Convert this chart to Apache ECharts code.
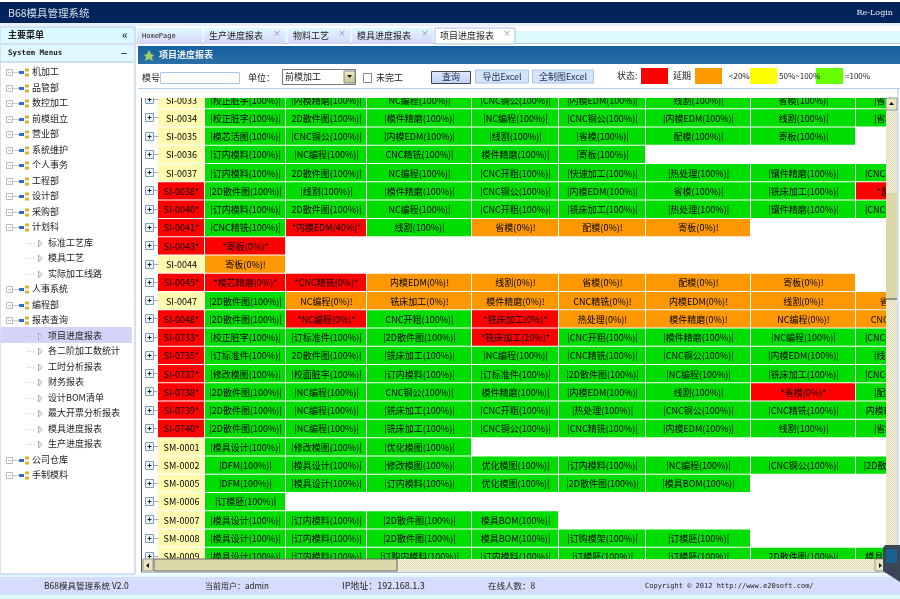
<!DOCTYPE html>
<html>
<head>
    <meta charset="utf-8">
    <title>项目进度报表</title>
    <script src="https://cdn.jsdelivr.net/npm/echarts@6/dist/echarts.min.js"></script>
    <style>
        html, body { margin: 0; padding: 0; background: #fff; }
        #chart1 { width: 900px; height: 599px; }
    </style>
</head>
<body>
<div id="chart1"></div>
<script type="text/javascript">
// 项目编号，带 * 的是延期
var rowIds = ['SI-0033', 'SI-0034', 'SI-0035', 'SI-0036', 'SI-0037', 'SI-0038*', 'SI-0040*', 'SI-0041*', 'SI-0043*',
    'SI-0044', 'SI-0045*', 'SI-0047', 'SI-0048*', 'SI-0733*', 'SI-0735*', 'SI-0737*', 'SI-0738*', 'SI-0739*',
    'SI-0740*', 'SM-0001', 'SM-0002', 'SM-0005', 'SM-0006', 'SM-0007', 'SM-0008', 'SM-0009'];

// 每行的工序：|x(100%)| 完成，x(0%)! 未开始，*x(0%)* 延期
var rowTasks = [
    ['|校正脏字(100%)|', '|内模精磨(100%)|', 'NC编程(100%)|', '|CNC铜公(100%)|', '|内模EDM(100%)|', '线割(100%)|', '省模(100%)|', '|省模(100%)|'],
    ['|校正脏字(100%)|', '2D散件图(100%)|', '|模件精磨(100%)|', '|NC编程(100%)|', '|CNC铜公(100%)|', '|内模EDM(100%)|', '线割(100%)|', '|省模(100%)|'],
    ['|模芯活图(100%)|', '|CNC铜公(100%)|', '|内模EDM(100%)|', '|线割(100%)|', '|省模(100%)|', '配模(100%)|', '寄板(100%)|'],
    ['|订内模料(100%)|', '|NC编程(100%)|', 'CNC精铣(100%)|', '模件精磨(100%)|', '|寄板(100%)|'],
    ['|订内模料(100%)|', '2D散件图(100%)|', 'NC编程(100%)|', '|CNC开粗(100%)|', '|快速加工(100%)|', '|热处理(100%)|', '|镶件精磨(100%)|', '|CNC精铣(100%)|'],
    ['|2D散件图(100%)|', '|线割(100%)|', '|模件精磨(100%)|', '|CNC铜公(100%)|', '|内模EDM(100%)|', '省模(100%)|', '|铣床加工(100%)|', '*配模(0%)*'],
    ['|订内模料(100%)|', '2D散件图(100%)|', 'NC编程(100%)|', '|CNC开粗(100%)|', '|铣床加工(100%)|', '|热处理(100%)|', '|镶件精磨(100%)|', '|CNC精铣(100%)|'],
    ['|CNC精铣(100%)|', '*内模EDM(40%)*', '线割(100%)|', '省模(0%)!', '配模(0%)!', '寄板(0%)!'],
    ['*寄板(0%)*'],
    ['寄板(0%)!'],
    ['*模芯精磨(0%)*', '*CNC精铣(0%)*', '内模EDM(0%)!', '线割(0%)!', '省模(0%)!', '配模(0%)!', '寄板(0%)!'],
    ['|2D散件图(100%)|', 'NC编程(0%)!', '铣床加工(0%)!', '模件精磨(0%)!', 'CNC精铣(0%)!', '内模EDM(0%)!', '线割(0%)!', '省模(0%)!'],
    ['|2D散件图(100%)|', '*NC编程(0%)*', 'CNC开粗(100%)|', '*铣床加工(0%)*', '热处理(0%)!', '模件精磨(0%)!', 'NC编程(0%)!', 'CNC精铣(0%)!'],
    ['|校正脏字(100%)|', '|订标准件(100%)|', '|2D散件图(100%)|', '*铣床加工(20%)*', '|CNC开粗(100%)|', '|模件精磨(100%)|', '|NC编程(100%)|', '|CNC精铣(100%)|'],
    ['|订标准件(100%)|', '2D散件图(100%)|', '|铣床加工(100%)|', '|NC编程(100%)|', '|CNC精铣(100%)|', '|CNC铜公(100%)|', '|内模EDM(100%)|', '|线割(100%)|'],
    ['|修改模图(100%)|', '|校面脏字(100%)|', '|订内模料(100%)|', '|订标准件(100%)|', '|2D散件图(100%)|', '|NC编程(100%)|', '|铣床加工(100%)|', '|CNC开粗(100%)|'],
    ['|2D散件图(100%)|', '|NC编程(100%)|', 'CNC铜公(100%)|', '模件精磨(100%)|', '|内模EDM(100%)|', '线割(100%)|', '*省模(0%)*', '|配模(100%)|'],
    ['|2D散件图(100%)|', '|NC编程(100%)|', '|铣床加工(100%)|', '|CNC开粗(100%)|', '|热处理(100%)|', '|CNC铜公(100%)|', '|CNC精铣(100%)|', '内模EDM(100%)|'],
    ['|2D散件图(100%)|', '|NC编程(100%)|', '|铣床加工(100%)|', '|CNC铜公(100%)|', '|CNC精铣(100%)|', '|内模EDM(100%)|', '线割(100%)|', '|省模(100%)|'],
    ['|模具设计(100%)|', '|修改模图(100%)|', '|优化模图(100%)|'],
    ['|DFM(100%)|', '|模具设计(100%)|', '|修改模图(100%)|', '优化模图(100%)|', '|订内模料(100%)|', '|NC编程(100%)|', '|CNC铜公(100%)|', '|2D散件图(100%)|'],
    ['|DFM(100%)|', '|模具设计(100%)|', '|订内模料(100%)|', '优化模图(100%)|', '|2D散件图(100%)|', '|模具BOM(100%)|'],
    ['|订模胚(100%)|'],
    ['|模具设计(100%)|', '|订内模料(100%)|', '|2D散件图(100%)|', '模具BOM(100%)|'],
    ['|模具设计(100%)|', '|订内模料(100%)|', '|2D散件图(100%)|', '模具BOM(100%)|', '|订购模架(100%)|', '|订模胚(100%)|'],
    ['|模具设计(100%)|', '|订内模料(100%)|', '|订购内模料(100%)|', '|订内模料(100%)|', '|订模胚(100%)|', '|订模胚(100%)|', '2D散件图(100%)|', '模具BOM(100%)|']
];

// 左边菜单：名称和层级
var menuNames = ['机加工', '品管部', '数控加工', '前模组立', '营业部', '系统维护', '个人事务', '工程部', '设计部', '采购部',
    '计划科', '标准工艺库', '模具工艺', '实际加工线路', '人事系统', '编程部', '报表查询', '项目进度报表', '各二阶加工数统计',
    '工时分析报表', '财务报表', '设计BOM清单', '最大开票分析报表', '模具进度报表', '生产进度报表', '公司仓库', '手制模料'];
var menuLevels = [0, 0, 0, 0, 0, 0, 0, 0, 0, 0, 0, 1, 1, 1, 0, 0, 0, 1, 1, 1, 1, 1, 1, 1, 1, 0, 0];

var tabNames = ['HomePage', '生产进度报表', '物料工艺', '模具进度报表', '项目进度报表'];
var legendNames = ['延期', '<20%', '50%~100%', '=100%'];

// 表格版面，单位是像素，从表格左边算起
var colEdges = [18, 65, 146, 227, 332, 419, 506, 611, 716, 804];
var rowPitch = 18.27;
var tableTop = 98, tableHeight = 461, firstRowTop = 91;

var RED = '#fe0000', ORANGE = '#fe9800', GREEN = '#00dd00', IDBG = '#fefbb0';
var CJK = '"Noto Sans CJK SC", "Liberation Sans", sans-serif';

function taskColor(t) {
    if (t.charAt(0) === '*') return RED;
    if (t.indexOf('(0%)') >= 0) return ORANGE;
    return GREEN;
}

var cellList = [];
rowIds.forEach(function (id, r) {
    cellList.push({ value: [0, r], name: id, itemStyle: { color: id.indexOf('*') >= 0 ? RED : IDBG } });
    rowTasks[r].forEach(function (t, c) {
        cellList.push({ value: [c + 1, r], name: t, itemStyle: { color: taskColor(t) } });
    });
});

function renderCell(params, api) {
    var c = api.value(0), r = api.value(1);
    var p0 = api.coord([colEdges[c], r]);
    var p1 = api.coord([colEdges[c + 1], r + 1]);
    var item = cellList[params.dataIndex];
    return {
        type: 'group',
        children: [{
            type: 'rect',
            shape: { x: p0[0], y: p0[1], width: p1[0] - p0[0] - 1, height: p1[1] - p0[1] - 1 },
            style: { fill: item.itemStyle.color }
        }, {
            type: 'text',
            style: {
                x: (p0[0] + p1[0]) / 2, y: (p0[1] + p1[1]) / 2, text: item.name,
                align: 'center', verticalAlign: 'middle', fill: '#000', font: '9px ' + CJK
            }
        }]
    };
}

function renderExpander(params, api) {
    var r = api.value(1);
    var y = Math.round((api.coord([0, r])[1] + api.coord([0, r + 1])[1]) / 2) - 0.5;
    var x = Math.round(api.coord([5, r])[0]) + 0.5;
    return {
        type: 'group',
        children: [
            { type: 'line', shape: { x1: x + 8, y1: y, x2: x + 13, y2: y }, style: { stroke: '#aac' } },
            { type: 'rect', shape: { x: x, y: y - 4, width: 8, height: 8 }, style: { fill: '#eef4fb', stroke: '#7f9db9' } },
            { type: 'line', shape: { x1: x + 2, y1: y, x2: x + 6, y2: y }, style: { stroke: '#222' } },
            { type: 'line', shape: { x1: x + 4, y1: y - 2, x2: x + 4, y2: y + 2 }, style: { stroke: '#222' } }
        ]
    };
}

// 界面外框
var g = [];
function box(x, y, w, h, fill, stroke, z) {
    g.push({ type: 'rect', z: z || 1, shape: { x: x, y: y, width: w, height: h }, style: { fill: fill, stroke: stroke || null } });
}
function txt(x, y, s, o) {
    o = o || {};
    g.push({
        type: 'text', z: o.z || 5, x: x, y: y,
        style: {
            text: s, fill: o.color || '#222', font: (o.bold ? 'bold ' : '') + (o.size || 9) + 'px ' + (o.family || CJK),
            align: o.align || 'left', verticalAlign: 'middle'
        }
    });
}
function vgrad(a, b) {
    return { type: 'linear', x: 0, y: 0, x2: 0, y2: 1, colorStops: [{ offset: 0, color: a }, { offset: 1, color: b }] };
}
function checker(a, b) {
    var cv = document.createElement('canvas');
    cv.width = cv.height = 2;
    var c = cv.getContext('2d');
    c.fillStyle = a; c.fillRect(0, 0, 2, 2);
    c.fillStyle = b; c.fillRect(0, 0, 1, 1); c.fillRect(1, 1, 1, 1);
    return { image: cv, repeat: 'repeat' };
}

// 顶部
box(0, 2, 900, 21, '#03245a');
box(0, 23, 900, 3, '#e8eef8');
txt(8, 13, 'B68模具管理系统', { color: '#d8e0ea', size: 10.5 });
txt(893, 13, 'Re-Login', { color: '#e6ecf4', align: 'right', size: 8, family: '"DejaVu Serif", serif' });

// 左边菜单
box(0, 27, 135, 547, '#fff', '#a9c4ea');
box(1, 28, 133, 15, '#d9f8ff');
box(1, 45, 133, 17, '#dff9ff');
g.push({ type: 'line', z: 2, shape: { x1: 1, y1: 44, x2: 134, y2: 44 }, style: { stroke: '#a9c4ea' } });
g.push({ type: 'line', z: 2, shape: { x1: 1, y1: 62, x2: 134, y2: 62 }, style: { stroke: '#a9c4ea' } });
txt(8, 35, '主要菜单', { bold: true });
txt(125, 35, '«', { bold: true, size: 11, color: '#345', align: 'center' });
txt(8, 53, 'System Menus', { bold: true, size: 7.5, family: '"DejaVu Sans Mono", monospace' });
box(121, 53, 6, 1, '#456');
box(1, 327, 131, 16, '#d4d4f8');
menuNames.forEach(function (name, i) {
    var y = 72 + i * 15.5;
    var yy = Math.round(y) + 0.5;
    if (menuLevels[i] === 0) {
        box(6.5, yy - 3, 6, 6, '#fff', '#bbb', 2);
        box(8, yy, 3, 0.6, '#888', null, 3);
        g.push({ type: 'line', z: 2, shape: { x1: 13, y1: yy, x2: 19, y2: yy }, style: { stroke: '#ccc' } });
        box(19, yy - 1.5, 5, 3, '#2f6fc4', null, 2);
        box(25, yy - 4, 4, 3, '#e0b030', null, 2);
        box(25, yy + 1, 4, 3, '#e0b030', null, 2);
        txt(32, y, name);
    } else {
        g.push({ type: 'line', z: 2, shape: { x1: 27, y1: yy, x2: 35, y2: yy }, style: { stroke: '#bbb', lineDash: [1, 2] } });
        g.push({ type: 'polygon', z: 2, shape: { points: [[38.5, yy - 3.5], [38.5, yy + 3.5], [42, yy]] }, style: { fill: '#eef', stroke: '#aaa' } });
        txt(48, y, name);
    }
});

// 页签
box(136, 31, 764, 13, '#dffaff');
g.push({ type: 'line', z: 2, shape: { x1: 136, y1: 43.5, x2: 900, y2: 43.5 }, style: { stroke: '#a9c4ea' } });
var tabX = [137, 204, 288, 352, 435];
var tabEnd = [202, 285, 350, 433, 515];
tabNames.forEach(function (name, i) {
    var active = i === 4;
    box(tabX[i], 28, tabEnd[i] - tabX[i], 16, active ? '#fff' : vgrad('#dffaff', '#d6d4f8'), active ? '#a9c4ea' : null, 2);
    txt(tabX[i] + 5, 36, name, { size: i === 0 ? 7 : 9, family: i === 0 ? '"DejaVu Sans Mono", monospace' : CJK });
    if (i > 0) txt(tabEnd[i] - 4, 33, '×', { size: 8, color: '#889', align: 'right' });
});

// 标题条
box(138, 46, 762, 18, vgrad('#14609f', '#2c6fa8'));
g.push({
    type: 'polygon', z: 5,
    shape: { points: [[149, 50], [151, 54], [154, 55], [152, 57], [153, 61], [149, 59], [145, 61], [146, 57], [144, 55], [147, 54]] },
    style: { fill: '#9fd060' }
});
txt(159, 54.5, '项目进度报表', { bold: true, color: '#f2f6fa' });

// 查询条
box(138, 64, 762, 25, '#fff');
box(138, 88, 762, 1, '#b4c8f2');
txt(142, 78, '模号');
box(160.5, 72.5, 79, 11, '#fff', '#a9c4ea');
txt(248, 78, '单位：');
box(282.5, 69.5, 73, 15, '#fff', '#777');
txt(285, 77, '前模加工');
box(344, 71, 11, 12, vgrad('#f2eecb', '#c9c28a'), '#888', 2);
g.push({ type: 'polygon', z: 5, shape: { points: [[347, 75], [352, 75], [349.5, 78]] }, style: { fill: '#111' } });
box(363.5, 73.5, 8, 9, '#fff', '#888');
txt(376, 78, '未完工');
box(431.5, 71.5, 39, 12, vgrad('#e6e8ff', '#bcd0f5'), '#445');
txt(451, 77, '查询', { align: 'center', color: '#235' });
box(475.5, 70, 53, 13, '#d4e4fb', '#a9c4ea');
txt(502, 76.5, '导出Excel', { align: 'center', color: '#235' });
box(532.5, 70, 61, 13, '#d4e4fb', '#a9c4ea');
txt(563, 76.5, '全制图Excel', { align: 'center', color: '#235' });
txt(617, 76, '状态:');
var legendColors = ['#ff0000', '#ff9900', '#ffff00', '#66ff00'];
var legendBoxX = [641, 695, 750, 816];
var legendTextX = [673, 729, 779, 845];
legendNames.forEach(function (name, i) {
    box(legendBoxX[i], 68, 27, 16, legendColors[i]);
    txt(legendTextX[i], 76, name, { size: i === 0 ? 9 : 8 });
});

// 表格外框和滚动条
box(141, 89, 756, 485, '#fff');
box(897.5, 89, 1, 485, '#a9c4ea');
box(141, 98, 1, 474, '#555', null, 2);
box(141, 572, 757, 1, '#a9c4ea', null, 2);
box(886, 98, 11, 474, checker('#f6f3e4', '#ddd8b0'), null, 4);
box(886, 193, 11, 106, '#ddd8aa', null, 4);
box(886, 298.5, 11, 1, '#444', null, 4);
box(886, 98, 11, 12, '#e8e4c4', '#999', 4);
g.push({ type: 'polygon', z: 5, shape: { points: [[889, 105], [894, 105], [891.5, 102]] }, style: { fill: '#111' } });
box(142, 559, 744, 13, checker('#f6f3e4', '#ddd8b0'), null, 4);
box(154, 559, 243, 12, '#ddd8aa', '#666', 4);
box(143, 559, 10, 12, '#e8e4c4', '#999', 4);
g.push({ type: 'polygon', z: 5, shape: { points: [[149, 563], [149, 568], [146, 565.5]] }, style: { fill: '#111' } });
box(875, 559, 10, 12, '#e8e4c4', '#999', 4);
g.push({ type: 'polygon', z: 5, shape: { points: [[879, 563], [879, 568], [882, 565.5]] }, style: { fill: '#111' } });

// 底部状态栏
box(0, 575, 900, 24, '#dffaff');
box(0, 577, 900, 18, '#d6dcfb');
txt(44, 586, 'B68模具管理系统 V2.0', { size: 8.5 });
txt(205, 586, '当前用户：admin', { size: 8 });
txt(342, 586, 'IP地址：192.168.1.3', { size: 9 });
txt(488, 586, '在线人数：8', { size: 8.5 });
txt(645, 586, 'Copyright © 2012 http://www.e20soft.com/', { size: 7, family: '"DejaVu Sans Mono", monospace' });

// 右下角的小挂件
g.push({ type: 'polygon', z: 20, shape: { points: [[900, 545], [885, 545], [883, 548], [883, 571], [900, 582]] }, style: { fill: '#3a4558' } });
box(886, 549, 11, 14, '#1c5f8e', null, 21);

var myChart1 = echarts.init(document.getElementById('chart1'), null, { renderer: 'canvas' });
myChart1.setOption({
    animation: false,
    backgroundColor: '#fff',
    graphic: { elements: g },
    grid: { left: 140, right: 14, top: tableTop, height: tableHeight, containLabel: false, show: false },
    xAxis: { type: 'value', min: 0, max: 746, show: false },
    yAxis: {
        type: 'value', inverse: true, show: false,
        min: (tableTop - firstRowTop) / rowPitch,
        max: (tableTop - firstRowTop + tableHeight) / rowPitch
    },
    series: [{
        name: '项目进度',
        type: 'custom',
        clip: true,
        z: 3,
        silent: true,
        renderItem: renderCell,
        data: cellList
    }, {
        name: '展开',
        type: 'custom',
        clip: true,
        z: 3,
        silent: true,
        renderItem: renderExpander,
        data: rowIds.map(function (id, r) { return [0, r]; })
    }]
});
</script>
</body>
</html>
